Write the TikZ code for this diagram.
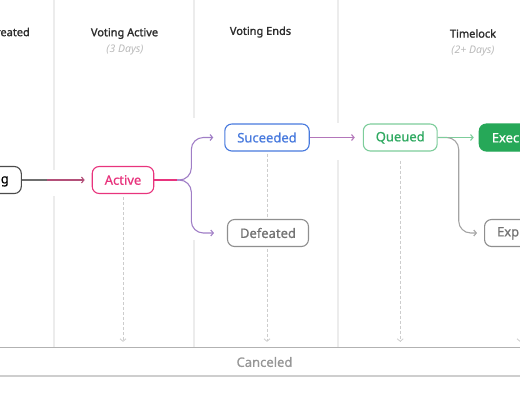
\documentclass[tikz,border=0pt]{standalone}
\usepackage{fontspec}
\setmainfont{Noto Sans}
\newfontfamily\headfont{Noto Sans}[FakeBold=1.6]
\newfontfamily\statefont{Noto Sans}[FakeBold=0.7]
\usetikzlibrary{positioning, arrows.meta, calc, backgrounds}

\definecolor{pinkstate}{RGB}{232,52,125}
\definecolor{bluestate}{RGB}{72,122,222}
\definecolor{greenstate}{RGB}{48,170,98}
\definecolor{greenlight}{RGB}{125,205,155}
\definecolor{greenfill}{RGB}{38,168,88}
\definecolor{graystate}{RGB}{115,115,115}
\definecolor{darkstate}{RGB}{75,75,75}
\definecolor{dividergray}{RGB}{236,236,236}
\definecolor{dashgray}{RGB}{205,205,205}
\definecolor{headgray}{RGB}{45,45,45}
\definecolor{subgray}{RGB}{185,185,185}
\colorlet{branchcol}{bluestate!60!pinkstate!80!white}

\begin{document}
\begin{tikzpicture}[
    x=1pt, y=-1pt,
    >={Straight Barb[length=2.5pt,width=6pt]},
    % Styles
    state/.style={
        draw, rectangle, rounded corners=7pt, fill=white,
        line width=1.1pt, minimum height=27pt, inner xsep=12.5pt,
        font=\statefont\fontsize{13}{15}\selectfont
    },
    header/.style={font=\headfont\fontsize{11}{13}\selectfont, text=headgray},
    subheader/.style={font=\fontsize{10.5}{12}\selectfont\itshape, text=subgray},
    flow/.style={->, line width=1.1pt},
    cancelflow/.style={->, dashgray, line width=0.8pt, dash pattern=on 3pt off 2pt},
    divider/.style={dividergray, line width=1.2pt},
    band/.style={
        minimum width=620pt, minimum height=28pt, inner ysep=0pt,
        text=graystate!75, font=\statefont\fontsize{13}{15}\selectfont
    }
  ]
    \useasboundingbox (0,0) rectangle (520,400);
    \clip (0,0) rectangle (520,400);

    % --- Column headers ---
    \node (hCreated)  [header] at (9.5,32) {Created};
    \node (hActive)   [header] at (124.5,33.5) {Voting Active};
    \node (sActive)   [subheader] at (125,50) {(3 Days)};
    \node (hEnds)     [header] at (260.5,32) {Voting Ends};
    \node (hTimelock) [header] at (473,33.5) {Timelock};
    \node (sTimelock) [subheader] at (473,51) {(2+ Days)};

    % --- States ---
    \node (Pending)   [state, draw=darkstate, text=black] at (-16.5,180) {Pending};
    \node (Active)    [state, draw=pinkstate, text=pinkstate] at (123,180) {Active};
    \node (Succeeded) [state, draw=bluestate, text=bluestate] at (267,137.5) {Suceeded};
    \node (Defeated)  [state, draw=graystate!80, text=graystate] at (268,233) {Defeated};
    \node (Queued)    [state, draw=greenlight, text=greenstate, right=53pt of Succeeded] {Queued};
    \node (Executed)  [state, draw=greenfill, fill=greenfill, text=white, right=41pt of Queued] {Executed};
    \node (Expired)   [state, draw=graystate!80, text=graystate, anchor=west] at (484,233) {Expired};

    % --- Canceled band ---
    \node (Canceled) [band] at (264.5,362) {Canceled};
    \draw[graystate!55, line width=1pt] (Canceled.north west) -- (Canceled.north east);
    \draw[graystate!35, line width=1.5pt] (Canceled.south west) -- (Canceled.south east);

    % --- Main flow ---
    \draw[flow, graystate!45!pinkstate, shorten >=7pt] (Pending) -- (Active);
    \draw[darkstate!80, line width=1.1pt] (Pending.east) -- ++(25,0);
    \draw[flow, branchcol, rounded corners=12pt, shorten >=11pt] (Active.east) -- ++(37,0) |- (Succeeded.west);
    \draw[flow, branchcol, rounded corners=12pt, shorten >=13pt] (Active.east) -- ++(37,0) |- (Defeated.west);
    \draw[pinkstate, line width=1.1pt] (Active.east) -- ++(23,0);
    \draw[flow, bluestate!45!pinkstate!80!white, shorten >=8pt] (Succeeded) -- (Queued);
    \draw[flow, greenlight, shorten >=5pt] (Queued) -- (Executed);
    \draw[flow, graystate!65, rounded corners=12pt, shorten >=7pt] (Queued.east) -- ++(21,0) |- (Expired.west);
    \draw[greenlight, line width=1.1pt] (Queued.east) -- ++(10,0);

    \begin{pgfonlayer}{background}
        % --- Column dividers ---
        \draw[divider] (54,0) -- (54,170) (54,196) -- (54,348);
        \draw[divider] (194,0) -- (194,118) (194,240) -- (194,348);
        \draw[divider] (338,0) -- (338,123) (338,160) -- (338,348);

        % --- Cancel paths ---
        \draw[cancelflow, shorten <=3pt, shorten >=6pt] (Active.south) -- (Active.south |- Canceled.north);
        \draw[cancelflow, shorten <=2pt, shorten >=6pt] (Succeeded.south) -- (Succeeded.south |- Canceled.north);
        \draw[cancelflow, shorten <=9pt, shorten >=6pt] (Queued.south) -- (Queued.south |- Canceled.north);
        \draw[cancelflow, shorten <=12pt, shorten >=6pt] (Expired.south) -- (Expired.south |- Canceled.north);
    \end{pgfonlayer}

\end{tikzpicture}
\end{document}
